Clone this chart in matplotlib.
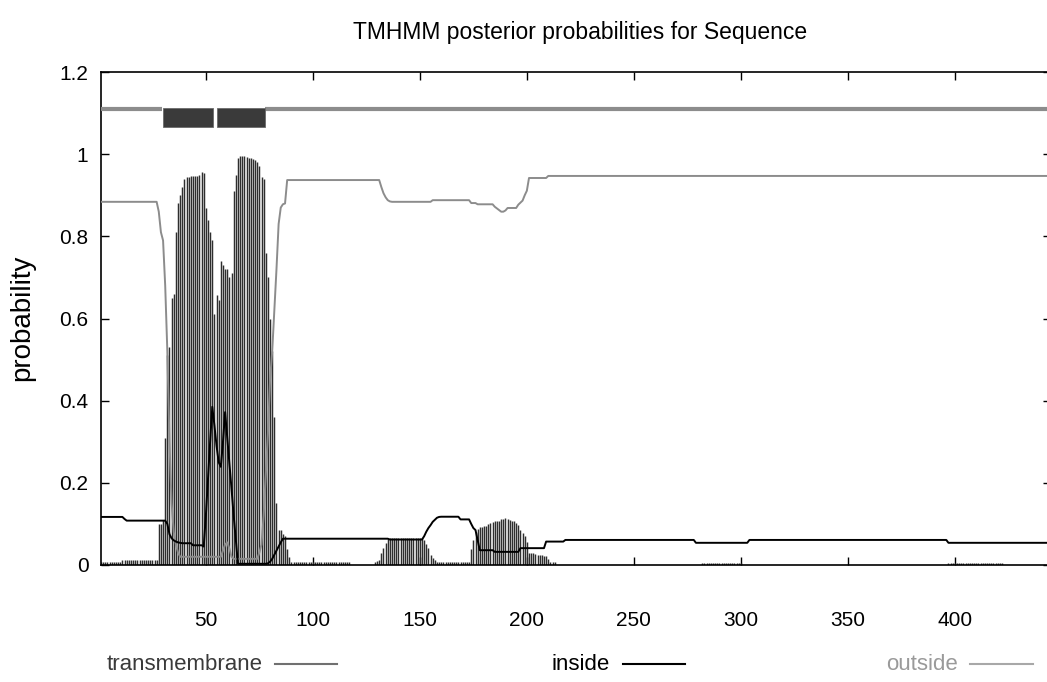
import numpy as np
import matplotlib as mpl
mpl.use('Agg')
import matplotlib.pyplot as plt
from matplotlib import font_manager as fm
from matplotlib.lines import Line2D
from matplotlib.patches import Rectangle

# ---- data ----
seq_len = 445

# plateaus: (first residue, last residue, value)
tm_runs = [(1, 10, 0.007), (11, 27, 0.012), (90, 117, 0.007), (158, 173, 0.008),
           (282, 300, 0.005), (397, 422, 0.005)]
# residue-by-residue stretches: (first residue, values)
tm_pieces = [
    (28, [0.10, 0.10, 0.11, 0.31, 0.51, 0.53, 0.65, 0.66, 0.81, 0.88,
          0.90, 0.92, 0.94, 0.945, 0.945, 0.946, 0.946, 0.948, 0.948, 0.95,
          0.957, 0.955, 0.87, 0.84, 0.81, 0.79, 0.61, 0.656, 0.645, 0.74,
          0.73, 0.72, 0.72, 0.70, 0.71, 0.91, 0.95, 0.99, 0.995, 0.995,
          0.995, 0.993, 0.99, 0.99, 0.988, 0.985, 0.982, 0.97, 0.945, 0.94,
          0.76, 0.70, 0.60, 0.52, 0.36, 0.15, 0.085, 0.085, 0.075, 0.07,
          0.04, 0.02]),
    (129, [0.008, 0.010, 0.012, 0.03, 0.041, 0.053, 0.063,
           0.065, 0.065, 0.065, 0.065, 0.065, 0.065, 0.065, 0.065,
           0.065, 0.065, 0.065, 0.065, 0.065, 0.065, 0.065, 0.065,
           0.06, 0.05, 0.041, 0.025, 0.018, 0.012]),
    (174, [0.04, 0.06, 0.08, 0.087, 0.092, 0.093, 0.094, 0.094, 0.10, 0.102,
           0.104, 0.106, 0.107, 0.108, 0.112, 0.113, 0.115, 0.113, 0.110, 0.108,
           0.106, 0.102, 0.097, 0.085, 0.077, 0.07, 0.056, 0.03, 0.028, 0.028,
           0.027, 0.025, 0.025, 0.024, 0.022, 0.022, 0.015, 0.008, 0.008, 0.008]),
]

inside_runs = [(1, 11, 0.117), (12, 12, 0.112), (13, 31, 0.108), (39, 43, 0.053),
               (44, 48, 0.048), (66, 78, 0.003), (86, 135, 0.064), (136, 151, 0.062),
               (160, 168, 0.1175), (169, 173, 0.111), (179, 184, 0.036),
               (185, 196, 0.032), (197, 208, 0.041), (209, 217, 0.057),
               (218, 278, 0.061), (279, 303, 0.054), (304, 396, 0.061),
               (397, 445, 0.054)]
inside_pieces = [
    (32, [0.10, 0.075, 0.065, 0.06, 0.057, 0.055, 0.054]),
    (49, [0.045, 0.12, 0.21, 0.30, 0.385, 0.34, 0.29, 0.25, 0.239, 0.30,
          0.372, 0.31, 0.25, 0.185, 0.12, 0.06, 0.003]),
    (79, [0.004, 0.008, 0.015, 0.025, 0.035, 0.045, 0.055]),
    (152, [0.07, 0.081, 0.09, 0.097, 0.105, 0.11, 0.115, 0.117]),
    (174, [0.10, 0.09, 0.085, 0.06, 0.036]),
]

outside_runs = [(1, 27, 0.884), (38, 57, 0.02), (63, 74, 0.015), (88, 131, 0.937),
                (137, 155, 0.884), (156, 173, 0.888), (174, 176, 0.881),
                (177, 184, 0.878), (202, 209, 0.942), (210, 445, 0.947)]
outside_pieces = [
    (28, [0.86, 0.81, 0.79, 0.68, 0.52, 0.30, 0.15, 0.08, 0.05, 0.03]),
    (58, [0.035, 0.05, 0.055, 0.04, 0.02]),
    (75, [0.03, 0.05, 0.12, 0.22, 0.32, 0.45, 0.52, 0.62, 0.72, 0.83,
          0.87, 0.878, 0.88]),
    (132, [0.92, 0.905, 0.895, 0.888, 0.885]),
    (185, [0.872, 0.868, 0.864, 0.860, 0.860, 0.863, 0.869, 0.869, 0.869,
           0.869, 0.869, 0.877, 0.882, 0.887, 0.90, 0.911, 0.942]),
]

# predicted topology shown above the curves
topo_outside = [(1, 29), (78, 445)]
topo_tm = [(30, 53), (55, 77)]

xticks = [50, 100, 150, 200, 250, 300, 350, 400]
yticks = [0, 0.2, 0.4, 0.6, 0.8, 1.0, 1.2]
ytick_labels = ['0', '0.2', '0.4', '0.6', '0.8', '1', '1.2']
legend_names = ['transmembrane', 'inside', 'outside']


def expand(runs, pieces):
    y = np.zeros(seq_len)
    for a, b, v in runs:
        y[a - 1:b] = v
    for a, vals in pieces:
        y[a - 1:a - 1 + len(vals)] = vals
    return y


res = np.arange(1, seq_len + 1)
tm = expand(tm_runs, tm_pieces)
inside = expand(inside_runs, inside_pieces)
outside = expand(outside_runs, outside_pieces)

# ---- fonts ----
names = {f.name for f in fm.fontManager.ttflist}
narrow = 'Liberation Sans Narrow' in names
if narrow:
    plt.rcParams['font.family'] = ['Liberation Sans Narrow', 'DejaVu Sans']
    fs_title, fs_tick, fs_lab, fs_leg = 20, 18, 25, 19
else:
    plt.rcParams['font.family'] = ['Liberation Sans', 'DejaVu Sans']
    fs_title, fs_tick, fs_lab, fs_leg = 16.5, 15, 20, 16

W, H = 1047, 682
fig = plt.figure(figsize=(W / 100, H / 100), dpi=100)
x0_px, y0_px, ytop_px = 101, 565, 72
px_per_res = 2.14
ax = fig.add_axes([x0_px / W, 1 - y0_px / H,
                   (seq_len - 1) * px_per_res / W, (y0_px - ytop_px) / H])

c_tm = '#2e2e2e'
c_out = '#8c8c8c'

ax.vlines(res, 0, tm, color=c_tm, lw=1.05, zorder=2)
ax.plot(res, outside, color=c_out, lw=1.4, zorder=3)
ax.plot(res, inside, color='black', lw=1.4, zorder=4)

# topology bar
for a, b in topo_outside:
    ax.hlines(1.11, a - 0.5, b + 0.5, color=c_out, lw=3.0, zorder=3)
for a, b in topo_tm:
    ax.add_patch(Rectangle((a, 1.065), b - a + 0.5, 0.047, facecolor='#3a3a3a',
                           edgecolor='#6a6a6a', lw=0.6, zorder=4))

ax.set_xlim(1, seq_len)
ax.set_ylim(0, 1.2)
ax.set_xticks(xticks)
ax.set_yticks(yticks)
ax.set_yticklabels(ytick_labels)
ax.tick_params(direction='in', length=6, width=1.0, top=True, right=True,
               labelsize=fs_tick, colors='black')
ax.tick_params(axis='x', pad=33)
ax.tick_params(axis='y', pad=9)
for s in ax.spines.values():
    s.set_linewidth(1.2)

fig.text(580 / W, 1 - 32 / H, 'TMHMM posterior probabilities for Sequence',
         ha='center', va='center', fontsize=fs_title)
fig.text(22 / W, 1 - 318 / H, 'probability', rotation=90,
         ha='center', va='center', fontsize=fs_lab)

# legend row along the bottom
leg_y = 1 - 664 / H
leg_text_right = [263, 610, 958]
leg_line = [(275, 337), (623, 685), (970, 1033)]
leg_text_col = ['#3a3a3a', 'black', '#9a9a9a']
leg_line_col = ['#707070', 'black', '#a8a8a8']
for name, xr, (la, lb), tc, lc in zip(legend_names, leg_text_right, leg_line,
                                      leg_text_col, leg_line_col):
    fig.text(xr / W, leg_y, name, ha='right', va='center', fontsize=fs_leg, color=tc)
    fig.add_artist(Line2D([la / W, lb / W], [leg_y, leg_y], color=lc, lw=1.5))

fig.savefig('out.png', dpi=100)
